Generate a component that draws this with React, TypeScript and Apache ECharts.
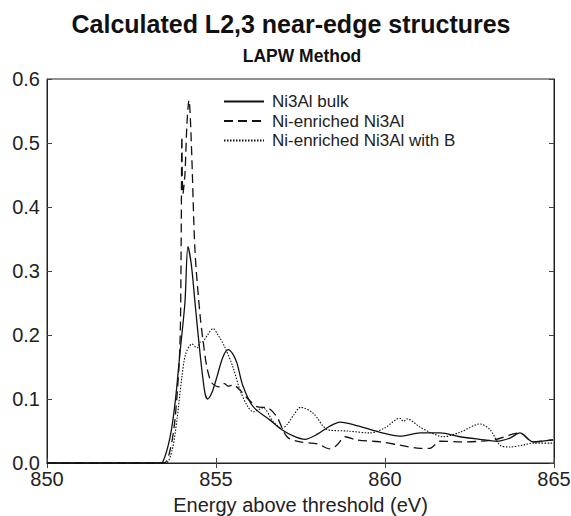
import React, { useEffect, useRef } from "react";
import * as echarts from "echarts";

const bulkE = [850, 853.3, 853.43, 853.64, 853.79, 853.93, 854.08, 854.17, 854.27, 854.38, 854.53, 854.67, 854.75, 854.88, 855.03, 855.2, 855.36, 855.5, 855.62, 855.8, 856.1, 856.6, 856.95, 857.3, 857.63, 858.0, 858.35, 858.67, 859.2, 859.85, 860.44, 861.04, 861.63, 862.22, 862.8, 863.31, 863.7, 863.99, 864.38, 864.97];
const bulkV = [0, 0, 0.002, 0.04, 0.094, 0.17, 0.25, 0.338, 0.31, 0.25, 0.17, 0.11, 0.1, 0.11, 0.135, 0.165, 0.177, 0.17, 0.156, 0.12, 0.088, 0.067, 0.052, 0.042, 0.037, 0.045, 0.057, 0.064, 0.058, 0.048, 0.042, 0.047, 0.047, 0.041, 0.037, 0.034, 0.039, 0.047, 0.033, 0.036];

const niE = [850, 853.45, 853.64, 853.79, 853.93, 853.97, 853.99, 854.02, 854.08, 854.14, 854.2, 854.27, 854.38, 854.53, 854.62, 854.73, 854.88, 855.12, 855.25, 855.36, 855.5, 855.71, 855.95, 856.21, 856.54, 856.8, 857.1, 857.49, 858.0, 858.37, 858.58, 858.82, 859.17, 859.85, 860.44, 861.04, 861.33, 861.63, 862.22, 863.2, 863.99, 864.38, 864.97];
const niV = [0, 0, 0.02, 0.07, 0.18, 0.35, 0.51, 0.42, 0.45, 0.53, 0.567, 0.5, 0.33, 0.23, 0.19, 0.15, 0.125, 0.119, 0.124, 0.12, 0.122, 0.114, 0.1, 0.088, 0.086, 0.072, 0.041, 0.033, 0.03, 0.022, 0.028, 0.041, 0.036, 0.033, 0.028, 0.023, 0.023, 0.034, 0.033, 0.036, 0.047, 0.033, 0.036];

const niBE = [850, 853.5, 853.7, 853.85, 853.99, 854.1, 854.29, 854.38, 854.44, 854.53, 854.62, 854.75, 854.91, 855.06, 855.27, 855.5, 855.71, 855.92, 856.1, 856.39, 856.69, 856.95, 857.1, 857.3, 857.5, 857.87, 858.31, 858.88, 859.56, 860.0, 860.44, 860.55, 860.65, 861.04, 861.33, 861.72, 862.22, 862.81, 863.11, 863.4, 863.7, 864.08, 864.38, 864.97];
const niBV = [0, 0, 0.02, 0.07, 0.134, 0.17, 0.186, 0.182, 0.18, 0.189, 0.19, 0.2, 0.21, 0.2, 0.18, 0.15, 0.114, 0.09, 0.08, 0.086, 0.065, 0.054, 0.06, 0.075, 0.087, 0.078, 0.052, 0.05, 0.047, 0.055, 0.07, 0.065, 0.069, 0.056, 0.048, 0.041, 0.048, 0.061, 0.052, 0.028, 0.025, 0.028, 0.031, 0.031];

const seriesNames = ["Ni3Al bulk", "Ni-enriched Ni3Al", "Ni-enriched Ni3Al with B"];
const yTicks = [0, 0.1, 0.2, 0.3, 0.4, 0.5, 0.6];
const xTicks = [850, 855, 860, 865];

const FONT = "Liberation Sans, Arial, Helvetica, sans-serif";

export default function App() {
  const ref = useRef<HTMLDivElement>(null);
  useEffect(() => {
    if (!ref.current) return;
    const chart = echarts.init(ref.current, undefined, { renderer: "svg" });
    const zip = (xs: number[], ys: number[]) => xs.map((x, i) => [x, ys[i]]);
    const line = (name: string, data: number[][], type: any, width: number) => ({
      name,
      type: "line",
      data,
      symbol: "none",
      smooth: 0.3,
      lineStyle: { color: "#111", width, type },
      itemStyle: { color: "#111" },
    });
    chart.setOption({
      animation: false,
      backgroundColor: "#fff",
      textStyle: { fontFamily: FONT },
      title: [
        {
          text: "Calculated L2,3 near-edge structures",
          left: 286,
          top: 6,
          textAlign: "center",
          textStyle: { fontSize: 25, fontWeight: "bold", color: "#111", fontFamily: FONT },
        },
        {
          text: "LAPW Method",
          left: 297,
          top: 42,
          textAlign: "center",
          textStyle: { fontSize: 17.5, fontWeight: "bold", color: "#111", fontFamily: FONT },
        },
      ],
      legend: {
        orient: "vertical",
        left: 218,
        top: 88,
        itemWidth: 40,
        itemHeight: 10,
        itemGap: 2.5,
        itemStyle: { opacity: 0 },
        data: seriesNames,
        textStyle: { fontSize: 17, color: "#222", fontFamily: FONT, padding: [0, 0, 0, 3] },
      },
      grid: { left: 47, right: 17, top: 79, bottom: 53, show: true, borderColor: "#222", borderWidth: 1, outerBoundsMode: "none" },
      xAxis: [
        {
          type: "value",
          min: 850,
          max: 865,
          interval: 5,
          name: "Energy above threshold (eV)",
          nameLocation: "middle",
          nameGap: 32,
          nameTextStyle: { fontSize: 20, color: "#222", fontFamily: FONT },
          axisLine: { show: true, lineStyle: { color: "#222" } },
          axisTick: { show: true, inside: true, length: 5, lineStyle: { color: "#444" } },
          axisLabel: { fontSize: 20, color: "#222", margin: 6, fontFamily: FONT, formatter: (v: number) => (xTicks.includes(v) ? String(v) : "") },
          splitLine: { show: false },
        },
        {
          type: "value",
          position: "top",
          min: 850,
          max: 865,
          interval: 5,
          axisLine: { show: true, lineStyle: { color: "#222" } },
          axisTick: { show: true, inside: true, length: 5, lineStyle: { color: "#444" } },
          axisLabel: { show: false },
          splitLine: { show: false },
        },
      ],
      yAxis: [
        {
          type: "value",
          min: 0,
          max: 0.6,
          interval: 0.1,
          axisLine: { show: true, lineStyle: { color: "#222" } },
          axisTick: { show: true, inside: true, length: 5, lineStyle: { color: "#444" } },
          axisLabel: {
            fontSize: 20,
            color: "#222",
            margin: 7,
            fontFamily: FONT,
            formatter: (v: number) => {
              const t = yTicks.find((y) => Math.abs(y - v) < 1e-9);
              return t === undefined ? "" : t.toFixed(1);
            },
          },
          splitLine: { show: false },
        },
        {
          type: "value",
          position: "right",
          min: 0,
          max: 0.6,
          interval: 0.1,
          axisLine: { show: true, lineStyle: { color: "#222" } },
          axisTick: { show: true, inside: true, length: 5, lineStyle: { color: "#444" } },
          axisLabel: { show: false },
          splitLine: { show: false },
        },
      ],
      series: [
        line(seriesNames[0], zip(bulkE, bulkV), "solid", 1.3),
        line(seriesNames[1], zip(niE, niV), [9, 5], 1.3),
        line(seriesNames[2], zip(niBE, niBV), [1.5, 1.5], 1.1),
      ],
    });
    return () => chart.dispose();
  }, []);
  return <div ref={ref} style={{ width: 571, height: 516, position: "absolute", left: 0, top: 0 }} />;
}
